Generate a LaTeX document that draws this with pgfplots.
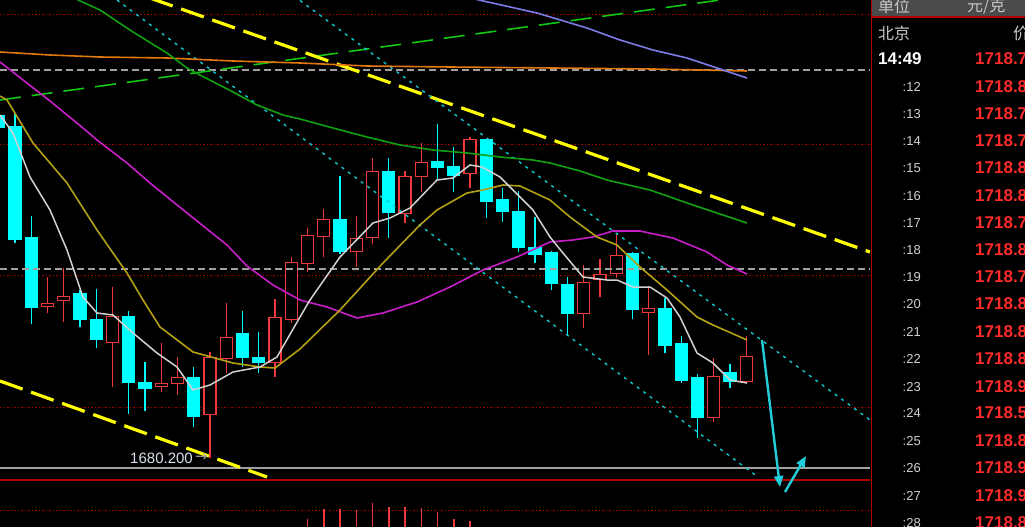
\documentclass[border=0pt]{standalone}
\usepackage{pgfplots}
\pgfplotsset{compat=1.18}
\usepackage{pgfplotstable}
\usetikzlibrary{arrows.meta}
\usepackage{fontspec}
\setmainfont{Liberation Sans}
\newfontfamily\cjk{Noto Sans CJK SC}
\newfontfamily\dejavu{DejaVu Sans}

\definecolor{candlecyan}{HTML}{00FFFF}
\definecolor{candlered}{HTML}{F03A3A}
\definecolor{ma5}{HTML}{D2D2D2}
\definecolor{ma10}{HTML}{B4A014}
\definecolor{ma20}{HTML}{C81EC8}
\definecolor{ma60}{HTML}{12A012}
\definecolor{maorange}{HTML}{E27810}
\definecolor{mablue}{HTML}{7C7AE6}
\definecolor{trendgreen}{HTML}{10C810}
\definecolor{trendyellow}{HTML}{FFFF00}
\definecolor{chan}{HTML}{10C8D0}
\definecolor{arrowc}{HTML}{22CCD8}
\definecolor{gridred}{HTML}{A00000}
\definecolor{linered}{HTML}{B00000}
\definecolor{dashgray}{HTML}{A0A0A0}
\definecolor{labelc}{HTML}{D8E0EC}
\definecolor{pricered}{HTML}{FF2A2A}
\definecolor{timegray}{HTML}{D0D0D0}
\definecolor{headgray}{HTML}{4B4B4B}
\definecolor{headtext}{HTML}{C8C8C8}

% candles (screen positions): x, wick top h, body top bt, body bottom bb, wick bottom l
\pgfplotstableread{
x h bt bb l
-1.25 112 115 128 130
15 113 126 240 243
31.25 216 237 308 324
80 290 293 320 327
96.25 289 319 340 348
128.75 311 316 383 414
145 362 382 389 411
193.75 367 377 417 427
242.5 311 333 358 367
258.75 332 357 363 373
340 176 219 252 254
388.75 158 171 213 238
437.5 124 161 168 179
453.75 147 166 176 192
486.25 139 139 202 218
502.5 188 199 212 222
518.75 191 211 248 252
535 217 247 255 263
551.25 251 252 284 290
567.5 277 284 314 335
632.5 252 253 310 319
665 298 308 346 353
681.25 336 343 381 383
697.5 374 377 418 438
730 364 372 382 388
}\cyandata

\pgfplotstableread{
x h bt bb l
47.5 277 303 307 313
63.75 268 296 301 322
112.5 287 316 343 387
161.25 343 383 387 392
177.5 357 377 384 395
210 352 357 415 458
226.25 303 337 359 373
275 299 317 363 377
291.25 257 262 320 323
307.5 228 235 264 272
323.75 209 219 237 257
356.25 216 238 252 267
372.5 158 171 238 244
405 171 176 214 223
421.25 143 162 177 192
470 137 139 174 188
583.75 265 282 314 328
600 259 274 280 297
616.25 234 255 274 278
648.75 286 308 313 355
713.75 358 376 418 422
746.25 336 356 382 384
}\reddata

\begin{document}
\begin{tikzpicture}
\fill[black] (0bp,0bp) rectangle (1025bp,527bp);

% ---------------- volume panel ----------------
\begin{axis}[at={(0bp,-33bp)}, anchor=south west,
  width=870bp, height=80bp, scale only axis,
  xmin=0, xmax=870, ymin=0, ymax=80, hide axis, clip=true]
\addplot[gridred, line width=1bp, dash pattern=on 1.5bp off 2bp] coordinates {(0,50) (870,50)};
\addplot[ycomb, candlered, line width=1.5bp] coordinates {
(307.5,41) (323.75,51) (340,51) (356.25,50) (372.5,57) (388.75,53)
(405,53) (421.25,52) (437.5,48) (453.75,41) (470,39)};
\end{axis}

% ---------------- main panel ----------------
\begin{axis}[at={(0bp,0bp)}, anchor=south west,
  width=870bp, height=527bp, scale only axis,
  xmin=0, xmax=870, ymin=0, ymax=527, y dir=reverse,
  hide axis, clip=true]

% red dotted grid
\addplot[gridred, line width=1bp, dash pattern=on 1.5bp off 2bp] coordinates {(0,15) (870,15)};
\addplot[gridred, line width=1bp, dash pattern=on 1.5bp off 2bp] coordinates {(0,145) (870,145)};
\addplot[gridred, line width=1bp, dash pattern=on 1.5bp off 2bp] coordinates {(0,275) (870,275)};
\addplot[gridred, line width=1bp, dash pattern=on 1.5bp off 2bp] coordinates {(0,407) (870,407)};

% candles: wicks
\addplot[candlecyan, line width=1.4bp, quiver={u=0, v=\thisrow{l}-\thisrow{h}}] table[x=x, y=h] {\cyandata};
\addplot[candlered, line width=1.4bp, quiver={u=0, v=\thisrow{l}-\thisrow{h}}] table[x=x, y=h] {\reddata};
% candles: bodies
\addplot[candlecyan, line width=13.4bp, quiver={u=0, v=\thisrow{bb}-\thisrow{bt}}] table[x=x, y=bt] {\cyandata};
\addplot[candlered, line width=13.4bp, quiver={u=0, v=\thisrow{bb}-\thisrow{bt}}] table[x=x, y=bt] {\reddata};
\addplot[black, line width=10.6bp, quiver={u=0, v=\thisrow{bb}-\thisrow{bt}-2.8}] table[x=x, y expr=\thisrow{bt}+1.4] {\reddata};

% horizontal reference lines
\addplot[dashgray, line width=1.5bp, dash pattern=on 7bp off 4bp] coordinates {(0,70) (870,70)};
\addplot[dashgray, line width=1.5bp, dash pattern=on 7bp off 4bp] coordinates {(0,269) (870,269)};
\addplot[dashgray, line width=1.6bp] coordinates {(0,468) (870,468)};
\addplot[linered, line width=2bp] coordinates {(0,480) (870,480)};

% trend lines
\addplot[trendgreen, line width=1.6bp, dash pattern=on 21bp off 11bp] coordinates {(0,100) (720,0)};
\addplot[trendyellow, line width=3.2bp, dash pattern=on 24bp off 9bp] coordinates {(150,-2) (870,252)};
\addplot[trendyellow, line width=3.2bp, dash pattern=on 24bp off 9bp] coordinates {(0,381) (267,477)};
\addplot[chan, line width=1.4bp, dash pattern=on 3bp off 5bp] coordinates {(117,0) (758,477)};
\addplot[chan, line width=1.4bp, dash pattern=on 3bp off 5bp] coordinates {(300,0.5) (870,420)};

% moving averages
\addplot[maorange, line width=1.6bp] coordinates {
(0,52) (50,55) (100,57) (167,58) (233,61) (300,63) (367,66) (450,67) (553,68) (653,69) (747,71)};
\addplot[mablue, line width=1.6bp] coordinates {
(470,-2) (537,13) (587,28) (620,40) (653,50) (687,58) (720,69) (747,78)};
\addplot[ma60, line width=1.6bp] coordinates {
(76,-1) (100,10) (133,32) (167,53) (187,68) (200,75) (233,92) (257,105) (283,115) (300,119)
(333,128) (367,137) (400,145) (433,150) (467,153) (500,157) (533,160) (550,163) (580,171)
(607,180) (650,190) (693,205) (747,223)};
\addplot[ma20, line width=1.6bp] coordinates {
(0,62) (50,101) (83,128) (97,140) (127,163) (150,183) (187,213) (227,245) (247,266) (273,285)
(300,300) (327,307) (357,318) (383,313) (417,302) (450,287) (483,270) (517,257) (550,242)
(573,240) (593,237) (613,231) (640,231) (673,238) (707,252) (727,265) (747,274)};
\addplot[ma10, line width=1.6bp] coordinates {
(0,96) (7,100) (33,143) (67,183) (97,230) (113,253) (127,273) (143,300) (160,327) (193,352)
(233,363) (260,367) (275,368) (300,349) (340,310) (383,263) (420,225) (437,210) (467,193)
(483,190) (503,185) (520,186) (550,200) (570,217) (597,237) (617,245) (640,267) (667,290)
(697,317) (713,325) (747,340)};
\addplot[ma5, line width=1.5bp] coordinates {
(0,115) (13,133) (30,177) (50,210) (67,250) (83,297) (97,313) (113,315) (133,333) (157,353)
(177,367) (193,390) (210,385) (233,372) (260,367) (277,357) (300,317) (310,300) (340,257)
(373,223) (390,218) (410,208) (437,180) (453,178) (470,165) (482,167) (500,177) (533,210)
(550,237) (563,253) (583,277) (607,280) (617,280) (633,287) (650,287) (667,298) (680,317)
(697,353) (713,363) (730,380) (747,383)};

% forecast arrows
\addplot[arrowc, line width=2.4bp, -{Triangle[length=11bp,width=9bp]}] coordinates {(762,340) (780,487)};
\addplot[arrowc, line width=2.4bp, -{Triangle[length=11bp,width=9bp]}] coordinates {(785,492) (806,456)};

% low label
\node[anchor=east, inner sep=0, text=labelc, font=\fontsize{15bp}{15bp}\selectfont] at (axis cs:193,458) {1680.200};
\node[anchor=west, inner sep=0, text=dashgray, font=\dejavu\fontsize{15bp}{15bp}\selectfont] at (axis cs:195,458) {→};
\end{axis}

% ---------------- right tick panel ----------------
\fill[headgray] (871bp,510bp) rectangle (1025bp,527bp);
\draw[linered, line width=1.2bp] (871bp,510bp) -- (1025bp,510bp);
\draw[linered, line width=1.5bp] (871.5bp,0bp) -- (871.5bp,527bp);
\node[anchor=west, inner sep=0, text=headtext, font=\cjk\fontsize{16bp}{16bp}\selectfont] at (878bp,521bp) {单位};
\node[anchor=west, inner sep=0, text=headtext, font=\cjk\fontsize{16bp}{16bp}\selectfont] at (967bp,521bp) {元/克};
\node[anchor=west, inner sep=0, text=headtext, font=\cjk\fontsize{16bp}{16bp}\selectfont] at (878bp,494bp) {北京};
\node[anchor=west, inner sep=0, text=headtext, font=\cjk\fontsize{16bp}{16bp}\selectfont] at (1013bp,494bp) {价};
\node[anchor=west, inner sep=0, text=white, font=\bfseries\fontsize{17bp}{17bp}\selectfont] at (878bp,468bp) {14:49};
\node[anchor=west, inner sep=0, text=pricered, font=\bfseries\fontsize{17bp}{17bp}\selectfont] at (975bp,468bp) {1718.7};
\foreach \ry/\tm/\pr in {440/:12/1718.8, 413/:13/1718.7, 386/:14/1718.7, 359/:15/1718.8,
  331/:16/1718.8, 304/:17/1718.7, 277/:18/1718.8, 250/:19/1718.7, 223/:20/1718.8,
  195/:21/1718.8, 168/:22/1718.8, 140/:23/1718.9, 114/:24/1718.5, 86/:25/1718.8,
  59/:26/1718.9, 31/:27/1718.9, 4/:28/1718.8}{
  \node[anchor=east, inner sep=0, text=timegray, font=\fontsize{13bp}{13bp}\selectfont] at (921bp,\ry bp) {\tm};
  \node[anchor=west, inner sep=0, text=pricered, font=\bfseries\fontsize{17bp}{17bp}\selectfont] at (975bp,\ry bp) {\pr};
}

\pgfresetboundingbox
\path[use as bounding box] (0bp,0bp) rectangle (1025bp,527bp);
\end{tikzpicture}
\end{document}
